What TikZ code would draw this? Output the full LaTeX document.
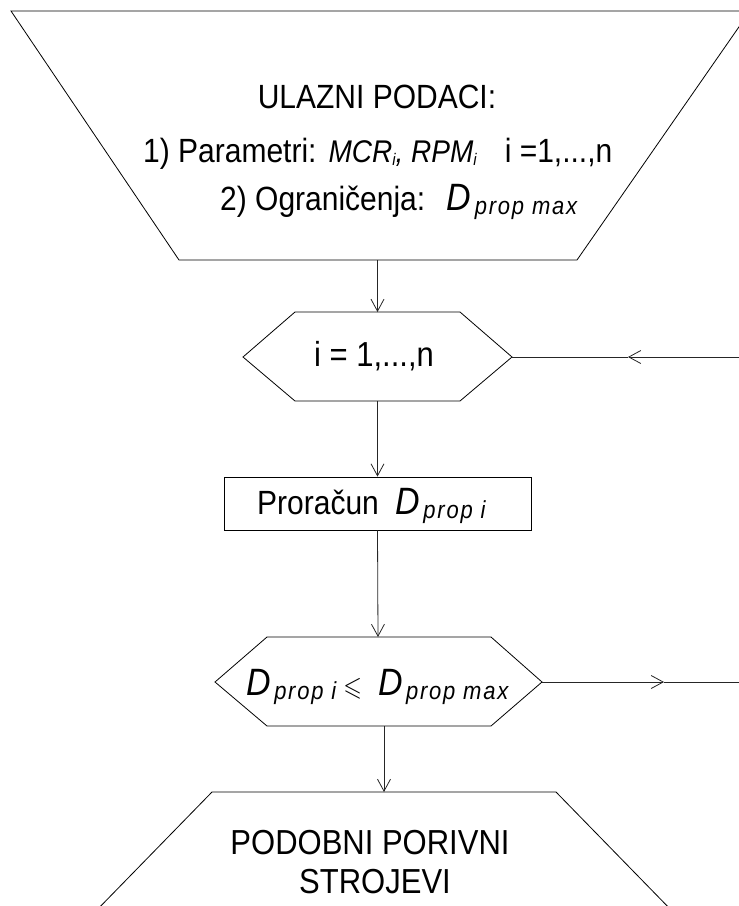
\documentclass[tikz,border=0pt]{standalone}
\usepackage{amssymb}
\usepackage{fontspec}
\setmainfont{Liberation Sans}
\newfontface\subit[LetterSpace=8]{Liberation Sans Italic}
\usetikzlibrary{arrows.meta}
\newcommand{\vs}[1]{\scalebox{1}[1.12]{#1}}
\newcommand{\bigD}{{\fontsize{34}{40}\selectfont\itshape D}}
\newcommand{\sbs}[1]{\raisebox{-4pt}{\fontsize{22}{24}\selectfont\subit #1}}
\newcommand{\lsub}[1]{\raisebox{-3pt}{\fontsize{15}{15}\selectfont\itshape #1}}
\tikzset{
  shapeline/.style={line width=0.8pt, black},
  conn/.style={line width=0.8pt, black!85, -{Straight Barb[length=12pt,width=13pt,line width=0.8pt]}},
  plain/.style={line width=0.8pt, black!85},
  txt/.style={font=\fontsize{30}{36}\selectfont, anchor=base, inner sep=0pt},
  txtw/.style={txt, anchor=base west}
}
\begin{document}
\begin{tikzpicture}[x=1pt,y=-1pt]
\useasboundingbox (0,0) rectangle (739,906);
% top trapezoid
\draw[shapeline] (11,11) -- (750,11) -- (577,260) -- (179,260) -- cycle;
\coordinate (tb) at (377.5,260);
\node[txt] (t1) at (377,108) {\vs{ULAZNI PODACI:}};
\node[txtw] (t2) at (143,162) {\vs{1) Parametri:\hspace{12pt}{\fontsize{28}{32}\selectfont\itshape MCR\lsub{i}, RPM\lsub{i}}\hspace{28pt}i =1,...,n}};
\node[txtw] (t3) at (220,210) {\vs{2) Ograničenja:\hspace{21pt}\bigD\hspace{4pt}\sbs{prop max}}};
% hexagon 1
\draw[shapeline] (243,357) -- (295,312) -- (460,312) -- (512,357) -- (460,401) -- (295,401) -- cycle;
\coordinate (h1n) at (377.5,312);
\coordinate (h1s) at (377.5,401);
\coordinate (h1e) at (512,357);
\node[txtw, font=\fontsize{31}{36}\selectfont] (h1t) at (314,366) {\vs{i = 1,...,n}};
% box
\node[draw, shapeline, minimum width=307pt, minimum height=53pt, inner sep=0pt] (box) at (377.5,503.5) {};
\node[txtw] (bt) at (257,514) {\vs{Proračun\hspace{17pt}\bigD\hspace{3pt}\sbs{prop i}}};
% hexagon 2
\draw[shapeline] (215,682) -- (267,637) -- (491,637) -- (542,682) -- (491,726) -- (267,726) -- cycle;
\coordinate (h2n) at (378,637);
\coordinate (h2s) at (384,726);
\coordinate (h2e) at (542,682);
\node[txtw] (h2t) at (246,695) {\vs{\bigD\hspace{3.5pt}\sbs{prop i}\hspace{7pt}{\fontsize{24}{26}\selectfont$\leqslant$}\hspace{17pt}\bigD\hspace{2.5pt}\sbs{prop max}}};
% bottom trapezoid
\draw[shapeline] (92,915) -- (212,792) -- (556,792) -- (676,915);
\coordinate (bn) at (384,792);
\node[txt, font=\fontsize{31}{36}\selectfont] (b1) at (370,854) {\vs{PODOBNI PORIVNI}};
\node[txt, font=\fontsize{31}{36}\selectfont] (b2) at (375,893) {\vs{STROJEVI}};
% connectors
\coordinate (r1) at (745,357);
\coordinate (m1) at (628,357);
\coordinate (r2) at (745,682);
\coordinate (m2) at (664,682);
\draw[conn] (tb) -- (h1n);
\draw[conn] (h1s) -- (box.north);
\draw[conn] (box.south) -- (h2n);
\draw[conn] (h2s) -- (bn);
\draw[conn] (r1) -- (m1);
\draw[plain] (m1) -- (h1e);
\draw[conn] (h2e) -- (m2);
\draw[plain] (m2) -- (r2);
\end{tikzpicture}
\end{document}
